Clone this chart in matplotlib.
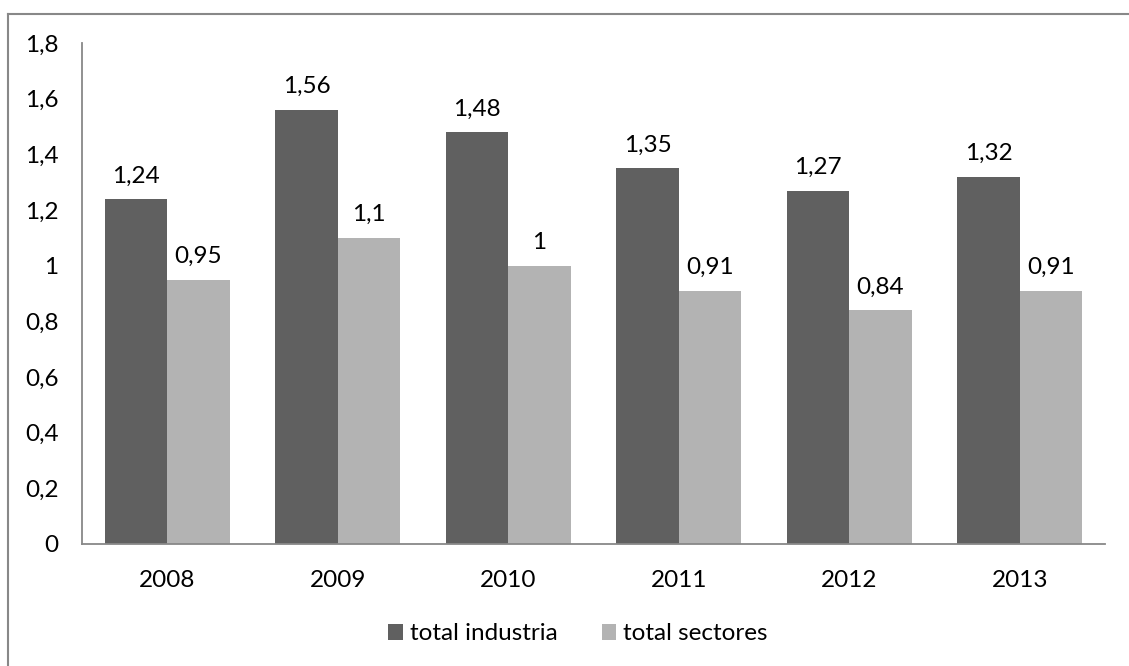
import numpy as np
import matplotlib.pyplot as plt
from matplotlib.lines import Line2D

years = ['2008', '2009', '2010', '2011', '2012', '2013']
industria = [1.24, 1.56, 1.48, 1.35, 1.27, 1.32]
sectores = [0.95, 1.1, 1.0, 0.91, 0.84, 0.91]
yticks = [0, 0.2, 0.4, 0.6, 0.8, 1.0, 1.2, 1.4, 1.6, 1.8]

dark = '#606060'
light = '#b3b3b3'
grey = '#888888'
fs = 17.5

plt.rcParams['font.family'] = ['Lato', 'DejaVu Sans']

W, H = 1129, 666
fig = plt.figure(figsize=(W / 100, H / 100), dpi=100)
ax = fig.add_axes([82 / W, 1 - 544 / H, (1105 - 82) / W, (544 - 43) / H])

def fmt(v):
    s = f'{v:.2f}'.rstrip('0').rstrip('.')
    return s.replace('.', ',')

x = np.arange(len(years))
w = 0.367
b1 = ax.bar(x - w / 2, industria, w, color=dark, label='total industria')
b2 = ax.bar(x + w / 2, sectores, w, color=light, label='total sectores')

for bars, vals in ((b1, industria), (b2, sectores)):
    for r, v in zip(bars, vals):
        ax.annotate(fmt(v), (r.get_x() + r.get_width() / 2, v),
                    xytext=(0, 9), textcoords='offset points',
                    ha='center', va='bottom', fontsize=fs)

ax.set_xlim(-0.5, len(years) - 0.5)
ax.set_ylim(0, 1.8)
ax.set_xticks(x, years)
ax.set_yticks(yticks, [fmt(t) for t in yticks])
ax.tick_params(length=0, labelsize=fs)
ax.tick_params(axis='y', pad=17)
ax.tick_params(axis='x', pad=19)
for s in ('top', 'right'):
    ax.spines[s].set_visible(False)
for s in ('left', 'bottom'):
    ax.spines[s].set_color(grey)
    ax.spines[s].set_linewidth(1.3)

fig.legend(handles=[b1, b2], loc='center', bbox_to_anchor=(578 / W, 1 - 634 / H),
           ncol=2, frameon=False, fontsize=fs, handlelength=0.6, handleheight=0.6,
           handletextpad=0.3, columnspacing=1.8)

# outer chart frame
fig.add_artist(Line2D([7.5 / W, 7.5 / W], [0, 1 - 14 / H], transform=fig.transFigure,
                      color=grey, lw=1.5))
fig.add_artist(Line2D([7.5 / W, 1], [1 - 14 / H, 1 - 14 / H], transform=fig.transFigure,
                      color=grey, lw=1.5))

fig.savefig('out.png', dpi=100)
